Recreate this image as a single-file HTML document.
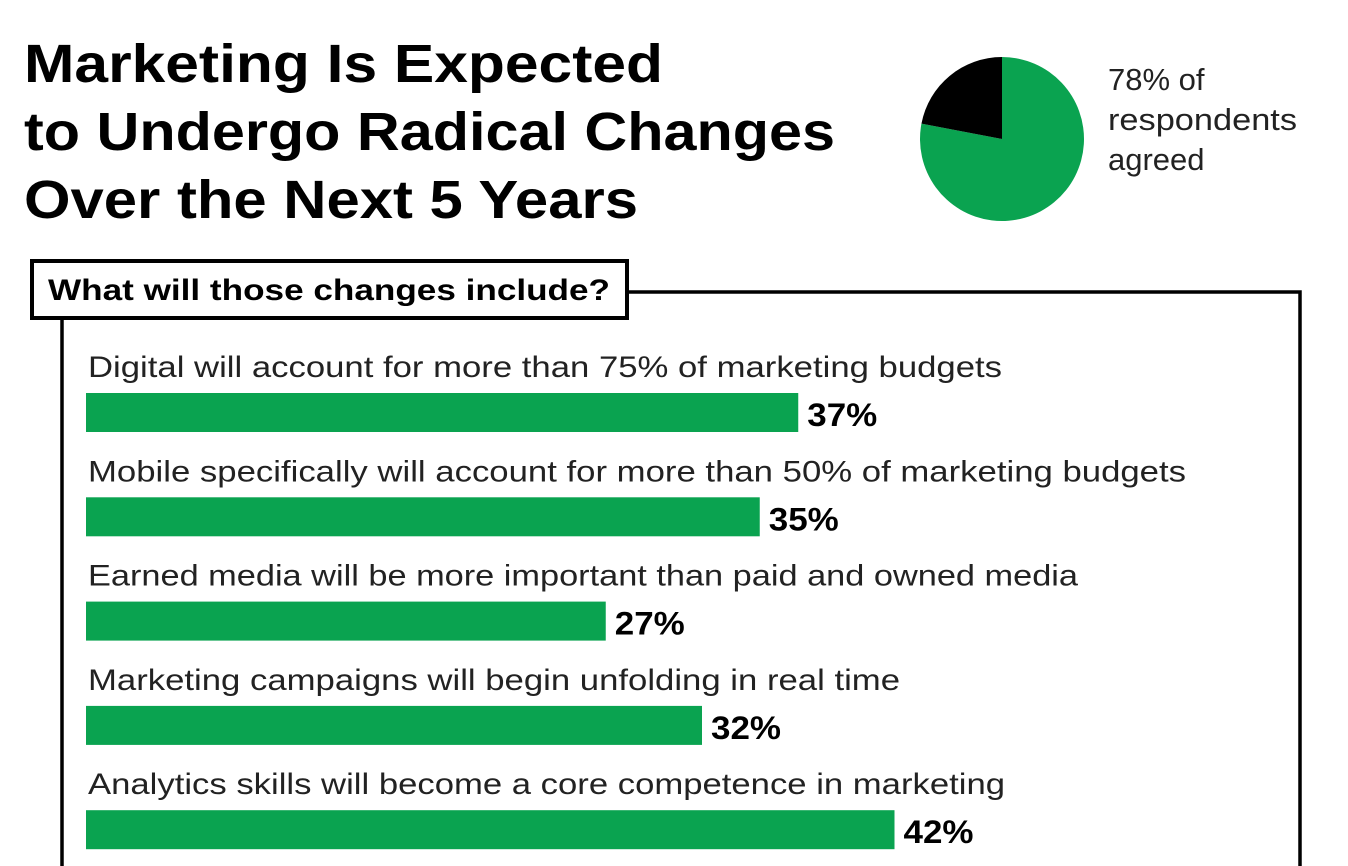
<!DOCTYPE html>
<html><head><meta charset="utf-8"><style>
html,body{margin:0;padding:0;background:#fff;width:1348px;height:866px;overflow:hidden}
svg{display:block}
text{font-family:"Liberation Sans",sans-serif}
</style></head><body>
<svg id="chart" width="1348" height="866">
  <g font-weight="bold" font-size="54" fill="#000">
    <text x="24" y="82" textLength="639" lengthAdjust="spacingAndGlyphs">Marketing Is Expected</text>
    <text x="24" y="150" textLength="811" lengthAdjust="spacingAndGlyphs">to Undergo Radical Changes</text>
    <text x="24" y="218" textLength="614" lengthAdjust="spacingAndGlyphs">Over the Next 5 Years</text>
  </g>
  <g id="pie"></g>
  <g font-size="31" fill="#222">
    <text x="1108" y="90">78% of</text>
    <text x="1108" y="130" textLength="189" lengthAdjust="spacingAndGlyphs">respondents</text>
    <text x="1108" y="170">agreed</text>
  </g>
  <path d="M627 292 H1300 V866 M62 318 V866" fill="none" stroke="#000" stroke-width="3.5"/>
  <rect x="32" y="261" width="595" height="57" fill="#fff" stroke="#000" stroke-width="4"/>
  <text x="48" y="300" font-size="30" font-weight="bold" textLength="562" lengthAdjust="spacingAndGlyphs">What will those changes include?</text>
  <g id="bars"></g>
</svg>
<script>
const categories = [
  "Digital will account for more than 75% of marketing budgets",
  "Mobile specifically will account for more than 50% of marketing budgets",
  "Earned media will be more important than paid and owned media",
  "Marketing campaigns will begin unfolding in real time",
  "Analytics skills will become a core competence in marketing"
];
const values = [37, 35, 27, 32, 42];
const valueLabels = ["37%", "35%", "27%", "32%", "42%"];
const pieValues = [78, 22];
const pieColors = ["#0aa350", "#000"];
const labelWidths = [914, 1098, 990, 812, 917];

const NS = "http://www.w3.org/2000/svg";
const x0 = 86, pxPer = 19.25;
const xScale = v => x0 + v * pxPer;
const rowY = i => 368 + i * 104.3;
const barsG = document.getElementById("bars");
categories.forEach((c, i) => {
  const y = rowY(i);
  const t = document.createElementNS(NS, "text");
  t.setAttribute("x", 88); t.setAttribute("y", y + 9);
  t.setAttribute("font-size", "30"); t.setAttribute("fill", "#222");
  t.setAttribute("textLength", labelWidths[i]); t.setAttribute("lengthAdjust", "spacingAndGlyphs");
  t.textContent = c;
  
  
  barsG.appendChild(t);
  const r = document.createElementNS(NS, "rect");
  r.setAttribute("x", x0); r.setAttribute("y", y + 25);
  r.setAttribute("width", xScale(values[i]) - x0); r.setAttribute("height", 39);
  r.setAttribute("fill", "#0aa350");
  
  
  barsG.appendChild(r);
  const v = document.createElementNS(NS, "text");
  v.setAttribute("x", xScale(values[i]) + 9); v.setAttribute("y", y + 58);
  v.setAttribute("font-size", "32"); v.setAttribute("font-weight", "bold");
  v.setAttribute("textLength", "70"); v.setAttribute("lengthAdjust", "spacingAndGlyphs");
  v.textContent = valueLabels[i];
  
  
  barsG.appendChild(v);
});
const pieG = document.getElementById("pie");
const cx = 1002, cy = 139, R = 82;
const total = pieValues.reduce((a, b) => a + b, 0);
let a0 = 0;
pieValues.forEach((v, i) => {
  const a1 = a0 + v / total * 2 * Math.PI;
  const p = (a) => [cx + R * Math.sin(a), cy - R * Math.cos(a)];
  const [x1, y1] = p(a0), [x2, y2] = p(a1);
  const large = (a1 - a0) > Math.PI ? 1 : 0;
  const path = document.createElementNS(NS, "path");
  path.setAttribute("d", `M${cx} ${cy} L${x1} ${y1} A${R} ${R} 0 ${large} 1 ${x2} ${y2} Z`);
  path.setAttribute("fill", pieColors[i]);
  
  
  pieG.appendChild(path);
  a0 = a1;
});
</script>
</body></html>
